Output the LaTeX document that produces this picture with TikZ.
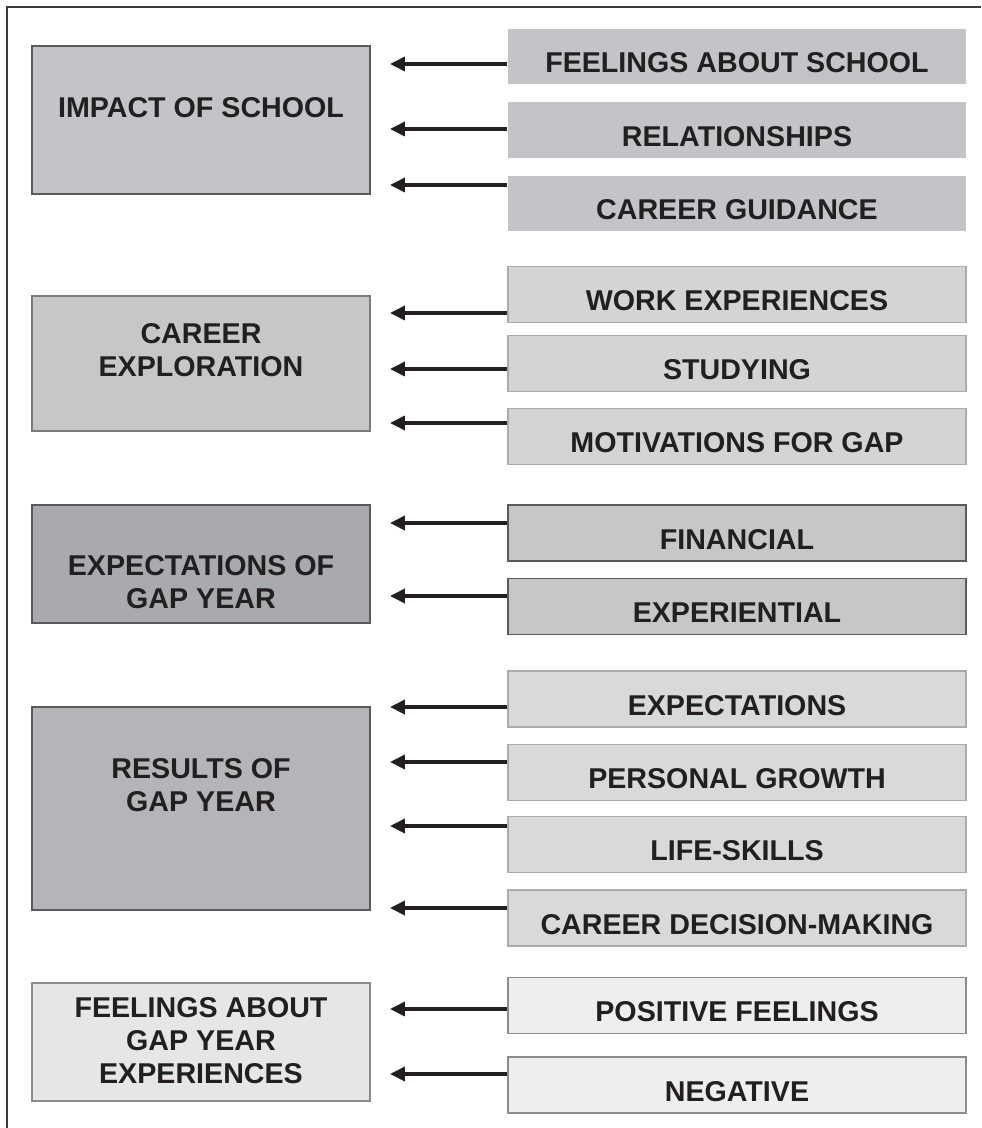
\documentclass[tikz,border=0pt]{standalone}
\usepackage{fontspec}
\setmainfont{Liberation Sans}
\usepackage{tikz}
\usetikzlibrary{arrows.meta}

\definecolor{inkblack}{HTML}{231F20}
\definecolor{frameline}{HTML}{3A3A3A}
\definecolor{darkedge}{HTML}{5A5A5A}
\definecolor{softedge}{HTML}{ABABAD}
\definecolor{paleedge}{HTML}{8C8C8C}
\definecolor{greyA}{HTML}{C3C4C7}
\definecolor{greyB}{HTML}{C6C7C9}
\definecolor{greyC}{HTML}{D3D4D6}
\definecolor{greyD}{HTML}{A9AAAD}
\definecolor{greyE}{HTML}{B4B5B8}
\definecolor{greyF}{HTML}{D8D9DB}
\definecolor{greyG}{HTML}{E5E6E8}
\definecolor{greyH}{HTML}{EEEEEF}

\begin{document}
\begin{tikzpicture}[x=0.02cm, y=-0.02cm,
	font=\fontsize{16.3}{18.8}\selectfont\bfseries, text=inkblack,
	catbox/.style={draw=darkedge, line width=0.8pt, inner sep=0pt, align=center, minimum width=6.76cm, text depth=0pt},
	subbox/.style={draw=softedge, line width=0.8pt, inner sep=0pt, minimum width=9.16cm, minimum height=1.12cm, text height=18.5pt, text depth=0pt},
	feed/.style={-{Triangle[length=8.5pt, width=8pt]}, line width=1.9pt, draw=inkblack}]
	\useasboundingbox (0,0) rectangle (981,1128);
	\draw[frameline, line width=0.8pt] (981,7) -- (7,7) -- (7,1128);
	
	%left boxes
	\node[catbox, fill=greyA, minimum height=2.96cm, text height=0.87pt, text depth=4pt] (c1) at (201,120) {IMPACT OF SCHOOL};
	\node[catbox, fill=greyB, draw=darkedge!80, minimum height=2.70cm, text height=15.1pt] (c2) at (201,363.5) {CAREER\\EXPLORATION};
	\node[catbox, fill=greyD, minimum height=2.36cm, text height=50.9pt] (c3) at (201,564) {EXPECTATIONS OF\\GAP YEAR};
	\node[catbox, fill=greyE, minimum height=4.06cm, text height=3.7pt] (c4) at (201,808.5) {RESULTS OF\\GAP YEAR};
	\node[catbox, fill=greyG, draw=paleedge, minimum height=2.36cm, text height=47.1pt] (c5) at (201,1042) {FEELINGS ABOUT\\GAP YEAR\\EXPERIENCES};
	
	%right boxes
	\node[subbox, fill=greyA, draw=none] (r1) at (737,56.5) {FEELINGS ABOUT SCHOOL};
	\node[subbox, fill=greyA, draw=none] (r2) at (737,130) {RELATIONSHIPS};
	\node[subbox, fill=greyA, draw=none] (r3) at (737,203.5) {CAREER GUIDANCE};
	\node[subbox, fill=greyC] (r4) at (737,294.5) {WORK EXPERIENCES};
	\node[subbox, fill=greyC] (r5) at (737,363.5) {STUDYING};
	\node[subbox, fill=greyC] (r6) at (737,436.5) {MOTIVATIONS FOR GAP};
	\node[subbox, fill=greyB, draw=darkedge] (r7) at (737,533) {FINANCIAL};
	\node[subbox, fill=greyB, draw=darkedge] (r8) at (737,606.5) {EXPERIENTIAL};
	\node[subbox, fill=greyF] (r9) at (737,699) {EXPECTATIONS};
	\node[subbox, fill=greyF] (r10) at (737,772.5) {PERSONAL GROWTH};
	\node[subbox, fill=greyF] (r11) at (737,844.5) {LIFE-SKILLS};
	\node[subbox, fill=greyF] (r12) at (737,918) {CAREER DECISION-MAKING};
	\node[subbox, fill=greyH, draw=paleedge] (r13) at (737,1005.5) {POSITIVE FEELINGS};
	\node[subbox, fill=greyH, draw=paleedge] (r14) at (737,1085) {NEGATIVE};
	
	%arrow tips
	\coordinate (t1) at (390,64);
	\coordinate (t2) at (390,129);
	\coordinate (t3) at (390,185);
	\coordinate (t4) at (390,313);
	\coordinate (t5) at (390,369);
	\coordinate (t6) at (390,423);
	\coordinate (t7) at (390,523);
	\coordinate (t8) at (390,596);
	\coordinate (t9) at (390,707);
	\coordinate (t10) at (390,762);
	\coordinate (t11) at (390,826);
	\coordinate (t12) at (390,908);
	\coordinate (t13) at (390,1009);
	\coordinate (t14) at (390,1074);
	
	%arrows
	\draw[feed] (r1.west |- t1) -- (t1);
	\draw[feed] (r2.west |- t2) -- (t2);
	\draw[feed] (r3.west |- t3) -- (t3);
	\draw[feed] (r4.west |- t4) -- (t4);
	\draw[feed] (r5.west |- t5) -- (t5);
	\draw[feed] (r6.west |- t6) -- (t6);
	\draw[feed] (r7.west |- t7) -- (t7);
	\draw[feed] (r8.west |- t8) -- (t8);
	\draw[feed] (r9.west |- t9) -- (t9);
	\draw[feed] (r10.west |- t10) -- (t10);
	\draw[feed] (r11.west |- t11) -- (t11);
	\draw[feed] (r12.west |- t12) -- (t12);
	\draw[feed] (r13.west |- t13) -- (t13);
	\draw[feed] (r14.west |- t14) -- (t14);
\end{tikzpicture}
\end{document}
